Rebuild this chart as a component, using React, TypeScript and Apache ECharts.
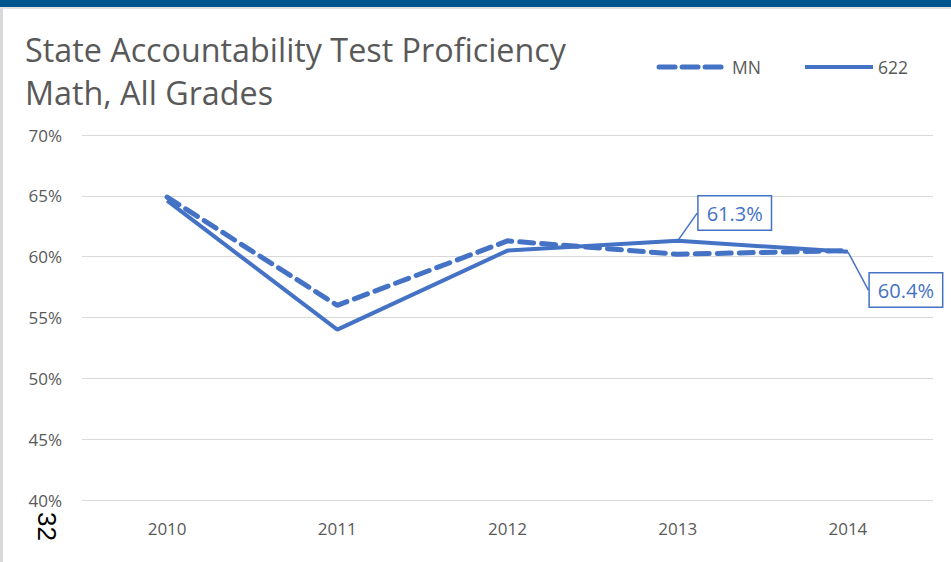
import React, { useEffect, useRef } from "react";
import * as echarts from "echarts";

const categories = ["2010", "2011", "2012", "2013", "2014"];
const mnValues = [64.9, 56.0, 61.3, 60.2, 60.5];
const d622Values = [64.6, 54.0, 60.5, 61.3, 60.4];
const yTicks = [40, 45, 50, 55, 60, 65, 70];
const labelledPoints = [3, 4];

const FONT = "'Open Sans', 'Noto Sans', sans-serif";
const BLUE = "#4472C4";
const GRAY = "#595959";

export default function App() {
  const ref = useRef<HTMLDivElement>(null);
  useEffect(() => {
    if (!ref.current) return;
    const chart = echarts.init(ref.current, null, { renderer: "svg" });
    const d622Data = d622Values.map((v, i) =>
      labelledPoints.includes(i)
        ? {
            value: v,
            label: {
              show: true,
              position: "top",
              formatter: (p: any) => Number(p.value).toFixed(1) + "%",
              color: BLUE,
              fontSize: 20,
              fontFamily: FONT,
              backgroundColor: "#fff",
              borderColor: BLUE,
              borderWidth: 1.5,
              padding: [7, 8, 6, 8],
            },
            labelLine: { show: true, lineStyle: { color: BLUE, width: 1.5 } },
          }
        : v
    );
    chart.setOption({
      animation: false,
      backgroundColor: "#fff",
      title: {
        text: "State Accountability Test Proficiency\nMath, All Grades",
        left: 20,
        top: 22,
        textStyle: {
          fontFamily: FONT,
          fontSize: 32.3,
          fontWeight: "normal",
          color: GRAY,
          lineHeight: 43,
        },
      },
      legend: {
        top: 53,
        right: 38,
        itemWidth: 68,
        itemHeight: 14,
        itemGap: 42,
        itemStyle: { opacity: 0 },
        textStyle: { fontFamily: FONT, fontSize: 17.5, color: GRAY },
        data: [
          { name: "MN", lineStyle: { type: [16, 7], width: 5, cap: "round" } },
          { name: "622", lineStyle: { width: 4 } },
        ],
      },
      grid: { left: 82, right: 18, top: 135, bottom: 62 },
      xAxis: {
        type: "category",
        data: categories,
        boundaryGap: true,
        axisLine: { show: false },
        axisTick: { show: false },
        axisLabel: {
          fontFamily: FONT,
          fontSize: 17,
          color: GRAY,
          margin: 20,
        },
      },
      yAxis: {
        type: "value",
        min: yTicks[0],
        max: yTicks[yTicks.length - 1],
        interval: 5,
        axisLine: { show: false },
        axisTick: { show: false },
        splitLine: { lineStyle: { color: "#d9d9d9", width: 1 } },
        axisLabel: {
          formatter: "{value}%",
          fontFamily: FONT,
          fontSize: 17,
          color: GRAY,
          margin: 20,
        },
      },
      series: [
        {
          name: "MN",
          type: "line",
          data: mnValues,
          symbol: "none",
          lineStyle: { color: BLUE, width: 5, type: [14, 8], cap: "round" },
          itemStyle: { color: BLUE },
          z: 2,
        },
        {
          name: "622",
          type: "line",
          data: d622Data,
          symbol: "circle",
          symbolSize: 0.5,
          showSymbol: true,
          lineStyle: { color: BLUE, width: 4 },
          itemStyle: { color: BLUE },
          labelLayout: (p: any) =>
            p.dataIndex === 3 ? { dx: 57, dy: -6 } : { dx: 58, dy: 60 },
          z: 3,
        },
      ],
      graphic: [
        {
          type: "rect",
          left: 0,
          top: 0,
          shape: { width: 951, height: 7 },
          style: { fill: "#00558C" },
        },
        {
          type: "rect",
          left: 0,
          top: 7,
          shape: { width: 951, height: 2 },
          style: { fill: "#dfe3e8" },
        },
        {
          type: "rect",
          left: 0,
          top: 9,
          shape: { width: 3, height: 553 },
          style: { fill: "#d9d9d9" },
        },
        {
          type: "text",
          x: 60,
          y: 512,
          rotation: -Math.PI / 2,
          style: {
            text: "32",
            fontFamily: "Liberation Sans, Arial, sans-serif",
            fontSize: 26,
            fill: "#000",
          },
        },
      ],
    });
    return () => chart.dispose();
  }, []);
  return (
    <div
      ref={ref}
      style={{ position: "fixed", left: 0, top: 0, width: 951, height: 562 }}
    />
  );
}
